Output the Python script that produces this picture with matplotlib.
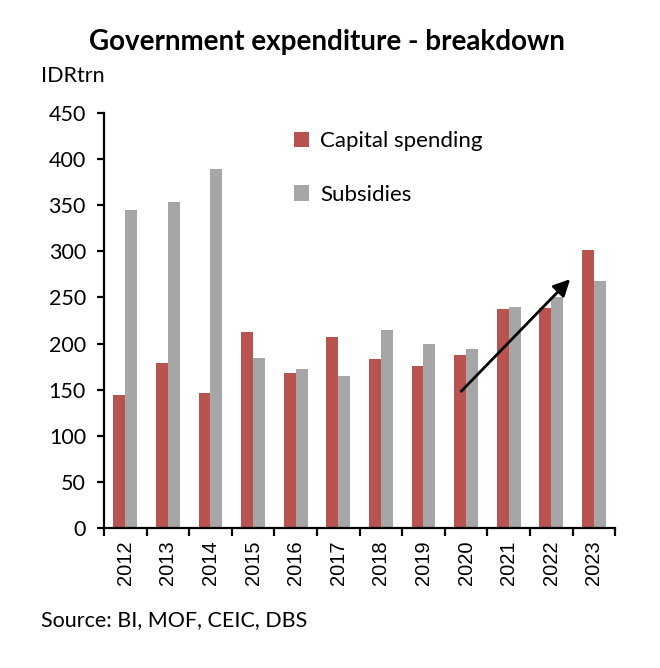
import numpy as np
import matplotlib
matplotlib.use("Agg")
import matplotlib.pyplot as plt

years = ['2012', '2013', '2014', '2015', '2016', '2017', '2018', '2019', '2020', '2021', '2022', '2023']
capital = [144, 179, 146, 213, 168, 207, 183, 176, 188, 237, 239, 301]
subsidies = [345, 353, 389, 184, 172, 165, 215, 200, 194, 240, 251, 268]

# arrow drawn over the chart, in data units (x = group index)
arrow_start = (7.84, 146)
arrow_end = (10.49, 272)

red = '#B9534F'
grey = '#A6A6A6'
txt_font = 'Lato'

fig = plt.figure(figsize=(6.6, 6.68), dpi=100)
ax = fig.add_axes([0.1576, 0.2096, 0.932 - 0.1576, 0.8308 - 0.2096])

x = np.arange(len(years))
w = 0.28
ax.bar(x - w / 2, capital, width=w, color=red, label='Capital spending')
ax.bar(x + w / 2, subsidies, width=w, color=grey, label='Subsidies')

ax.set_xlim(-0.5, len(years) - 0.5)
ax.set_ylim(0, 450)
ax.set_yticks(np.arange(0, 451, 50))

ax.spines['top'].set_visible(False)
ax.spines['right'].set_visible(False)
ax.spines['left'].set_linewidth(1.6)
ax.spines['bottom'].set_linewidth(1.6)

# year labels sit between the tick marks
ax.set_xticks(x)
ax.set_xticklabels(years, rotation=90, fontsize=14.5, family='Liberation Sans')
ax.tick_params(axis='x', length=0, pad=9)
ax.set_xticks(np.arange(-0.5, len(years)), minor=True)
ax.tick_params(axis='x', which='minor', length=6, width=1.6, direction='out')
ax.tick_params(axis='y', length=5, width=1.6, direction='out', pad=8)
for lab in ax.get_yticklabels():
    lab.set_family(txt_font)
    lab.set_fontsize(15.5)

ax.annotate('', xy=arrow_end, xytext=arrow_start,
            arrowprops=dict(arrowstyle='-|>', color='black', lw=2,
                            mutation_scale=25))

leg = ax.legend(loc='upper left', bbox_to_anchor=(0.332, 1.004), frameon=False,
                prop={'family': txt_font, 'size': 16}, labelspacing=1.5,
                handlelength=0.7, handleheight=0.7, handletextpad=0.5)

fig.text(0.495, 0.937, 'Government expenditure - breakdown', ha='center', va='center',
         fontsize=20, fontweight='bold', family=txt_font)
fig.text(0.062, 0.886, 'IDRtrn', ha='left', va='center', fontsize=15.5, family=txt_font)
fig.text(0.062, 0.072, 'Source: BI, MOF, CEIC, DBS', ha='left', va='center',
         fontsize=15.5, family=txt_font)

fig.savefig('out.png', dpi=100)
